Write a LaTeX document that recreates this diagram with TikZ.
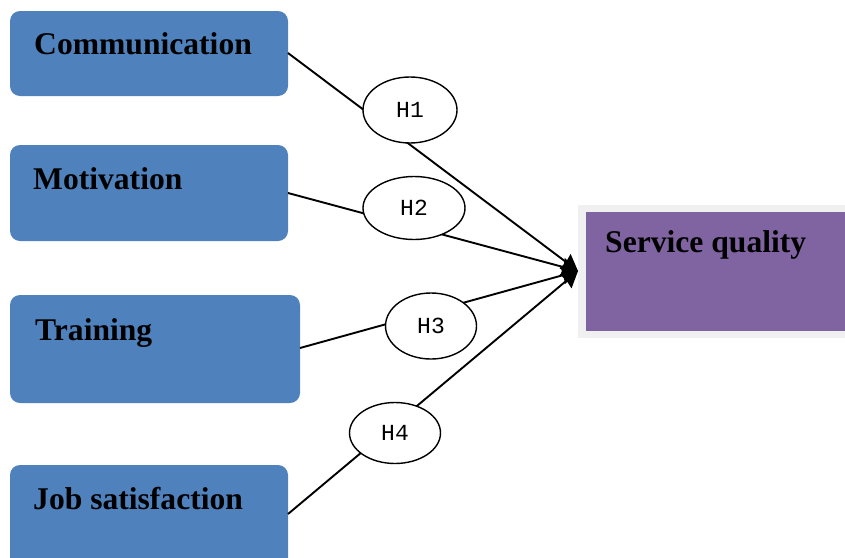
\documentclass[tikz,border=0pt]{standalone}
\usepackage{fontspec}
\setmainfont{Liberation Serif}
\newfontfamily\hmono{Liberation Mono}
\usetikzlibrary{shapes.geometric,arrows.meta}
\definecolor{boxblue}{HTML}{4F81BD}
\definecolor{boxpurple}{HTML}{8064A2}
\definecolor{framegray}{HTML}{F0F0F0}
\begin{document}
\begin{tikzpicture}[x=1pt,y=-1pt,
  srcbox/.style={fill=boxblue, draw=none, rounded corners=10pt},
  boxtext/.style={anchor=base west, inner sep=0pt, font=\fontsize{31.6}{36}\selectfont\bfseries},
  hyp/.style={ellipse, draw=black, line width=1.4pt, fill=white, inner sep=0pt, font=\hmono\fontsize{23}{26}\selectfont},
  link/.style={line width=1.9pt, -{Stealth[length=16pt,width=18pt,inset=1pt]}}]
\useasboundingbox (0,0) rectangle (845,557);
\clip (0,0) rectangle (845,557);
% source boxes
\path[srcbox] (10,11) rectangle (288,96);
\coordinate (comm) at (288,53);
\path[srcbox] (10,145) rectangle (288,241);
\coordinate (moti) at (288,193);
\path[srcbox] (10,295) rectangle (300,403);
\coordinate (trai) at (300,348);
\path[srcbox] (10,465) rectangle (288,580);
\coordinate (jobs) at (288,514);
\node[boxtext] (tcomm) at (34,54) {Communication};
\node[boxtext] (tmoti) at (33,189) {Motivation};
\node[boxtext] (ttrai) at (35,340) {Training};
\node[boxtext] (tjobs) at (33,509) {Job satisfaction};
% target
\fill[framegray] (578,205) rectangle (860,338);
\fill[boxpurple] (586,212) rectangle (860,331);
\node[boxtext] (tsq) at (605,252) {Service quality};
\coordinate (tip) at (578,271);
% links
\draw[link] (comm) -- (tip);
\draw[link] (moti) -- (tip);
\draw[link] (trai) -- (tip);
\draw[link] (jobs) -- (tip);
% hypotheses
\node[hyp, minimum width=94pt, minimum height=66pt] (h1) at (410,110) {H1};
\node[hyp, minimum width=102pt, minimum height=63pt] (h2) at (414,208) {H2};
\node[hyp, minimum width=91pt, minimum height=66pt] (h3) at (431,326) {H3};
\node[hyp, minimum width=91pt, minimum height=61pt] (h4) at (395,433) {H4};
\end{tikzpicture}
\end{document}
